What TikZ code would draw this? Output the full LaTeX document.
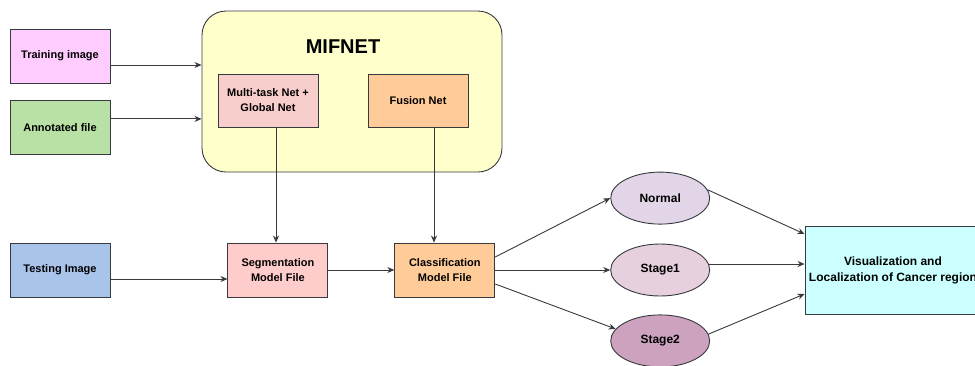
\documentclass[tikz,border=0pt]{standalone}
\usepackage{fontspec}
\setmainfont{Liberation Sans}
\usepackage{xcolor}
\usepackage{tikz}
\usetikzlibrary{positioning, arrows.meta, shapes.geometric}

\definecolor{trainfill}{HTML}{FFCCFF}
\definecolor{annotfill}{HTML}{B9E0A5}
\definecolor{mifnetfill}{HTML}{FFFFCC}
\definecolor{multifill}{HTML}{F8CECC}
\definecolor{orangefill}{HTML}{FFCC99}
\definecolor{testfill}{HTML}{A9C4EB}
\definecolor{segfill}{HTML}{FFCCCC}
\definecolor{normalfill}{HTML}{E1D5E7}
\definecolor{stageonefill}{HTML}{E6D0DE}
\definecolor{stagetwofill}{HTML}{CDA2BE}
\definecolor{visfill}{HTML}{CCFFFF}
\definecolor{edge}{HTML}{36393D}

\begin{document}
\begin{tikzpicture}[
  x=1pt, y=-1pt,
  font=\bfseries\fontsize{11}{15}\selectfont,
  box/.style={draw=edge, line width=0.9pt, minimum width=100pt,
              minimum height=54pt, align=center, inner sep=2pt},
  oval/.style={ellipse, draw=edge, line width=0.9pt, minimum width=99pt,
               minimum height=52pt, inner sep=0pt,
               font=\bfseries\fontsize{12}{15}\selectfont},
  arr/.style={-{Stealth[length=7pt,width=6pt]}, draw=edge, line width=0.9pt}
]
\useasboundingbox (0,0) rectangle (975,365);

% training side
\node[draw=edge, line width=0.9pt, rounded corners=24pt, fill=mifnetfill,
      minimum width=300pt, minimum height=161pt] (M) at (352,91.5) {};
\node[font=\bfseries\fontsize{20}{24}\selectfont] (title) at (343,47) {MIFNET};
\node[box, fill=multifill, minimum height=53pt] (multi) at (268,100.5)
  {Multi-task Net +\\Global Net};
\node[box, fill=orangefill, minimum height=53pt] (fusion) at (418,100.5)
  {Fusion Net};

\node[box, fill=trainfill] (train) at (60,56) {Training image};
\node[box, fill=annotfill, below=17pt of train] (annot) {Annotated file};

\draw[arr] ([yshift=-9pt]train.east) -- ([yshift=-9pt]train.east -| M.west);
\draw[arr] ([yshift=9pt]annot.east) -- ([yshift=9pt]annot.east -| M.west);

% testing side
\node[box, fill=testfill] (test) at (60,270) {Testing Image};
\node[box, fill=segfill, right=117pt of test] (seg) {Segmentation\\Model File};
\node[box, fill=orangefill, right=66pt of seg] (cls) {Classification\\Model File};

\draw[arr] ([xshift=8pt]multi.south) -- ([xshift=8pt]multi.south |- seg.north);
\draw[arr] ([xshift=16pt]fusion.south) -- ([xshift=16pt]fusion.south |- cls.north);
\draw[arr] ([yshift=-9pt]test.east) -- ([yshift=-9pt]test.east -| seg.west);
\draw[arr] (seg.east) -- (cls.west);

% stages
\node[oval, fill=stageonefill, right=115pt of cls] (st1) {Stage1};
\node[oval, fill=normalfill, above=19pt of st1] (norm) {Normal};
\node[oval, fill=stagetwofill, below=18pt of st1] (st2) {Stage2};

\node[box, fill=visfill, minimum width=176pt, minimum height=88pt,
      font=\bfseries\fontsize{12}{16}\selectfont] (vis) at (893,270)
  {Visualization and\\Localization of Cancer region};

\draw[arr] ([yshift=13pt]cls.east) -- (norm.west);
\draw[arr] (cls.east) -- (st1.west);
\draw[arr] ([yshift=-14pt]cls.east) -- (st2.165);

\draw[arr] (norm.10) -- ([yshift=36pt]vis.west);
\draw[arr] (st1.7) -- (st1.7 -| vis.west);
\draw[arr] (st2.8) -- ([yshift=-24pt]vis.west);
\end{tikzpicture}
\end{document}
